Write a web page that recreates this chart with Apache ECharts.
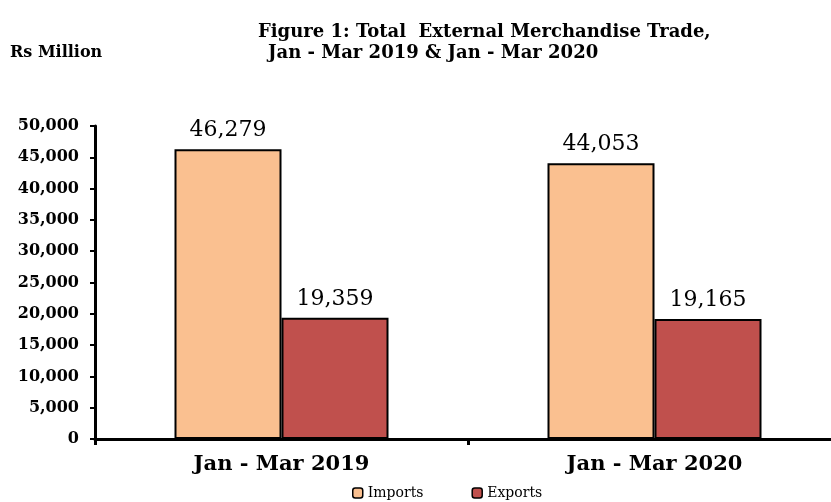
<!DOCTYPE html>
<html>
<head>
<meta charset="utf-8">
<script src="https://cdn.jsdelivr.net/npm/echarts@6/dist/echarts.min.js"></script>
<style>html,body{margin:0;padding:0;background:#fff;overflow:hidden;width:831px;height:502px;}#c{width:841px;height:502px;}</style>
</head>
<body>
<div id="c"></div>
<script>
var categories = ['Jan - Mar 2019', 'Jan - Mar 2020'];
var imports = [46279, 44053];
var exports = [19359, 19165];
var seriesNames = ['Imports', 'Exports'];

var serif = 'DejaVu Serif, serif';
var chart = echarts.init(document.getElementById('c'));
function fmt(v){ return Number(v).toLocaleString('en-US'); }
var labelStyle = {show:true, position:'top', distance:8, color:'#000', fontFamily:serif, fontSize:22, formatter:function(p){return fmt(p.value);}};
chart.setOption({
  animation:false,
  title:[
    {text:'Figure 1: Total  External Merchandise Trade,', left:253, top:18, textStyle:{fontFamily:serif, fontWeight:'bold', fontSize:18, color:'#000'}},
    {text:'Jan - Mar 2019 & Jan - Mar 2020', left:263, top:39, textStyle:{fontFamily:serif, fontWeight:'bold', fontSize:18, color:'#000'}},
    {text:'Rs Million', left:5, top:40, textStyle:{fontFamily:serif, fontWeight:'bold', fontSize:16, color:'#000'}}
  ],
  legend:{
    data:seriesNames, bottom:-3, left:347, itemWidth:10, itemHeight:10, itemGap:48,
    textStyle:{fontFamily:serif, fontSize:14, color:'#000'},
    itemStyle:{borderColor:'#000', borderWidth:1.5}
  },
  grid:{left:95, top:126, right:0, height:313},
  xAxis:{
    type:'category', data:categories,
    axisLine:{lineStyle:{color:'#000', width:3}},
    axisTick:{show:true, length:6, lineStyle:{color:'#000', width:3}},
    axisLabel:{fontFamily:serif, fontWeight:'bold', fontSize:21, color:'#000', margin:15}
  },
  yAxis:{
    type:'value', min:0, max:50000, interval:5000,
    axisLine:{show:true, lineStyle:{color:'#000', width:3}},
    axisTick:{show:true, length:5, lineStyle:{color:'#000', width:2}},
    splitLine:{show:false},
    axisLabel:{fontFamily:serif, fontWeight:'bold', fontSize:16, color:'#000', margin:16, formatter:function(v){return fmt(v);}}
  },
  series:[
    {name:seriesNames[0], type:'bar', data:imports, barWidth:107, barGap:'0%',
     itemStyle:{color:'#FAC090', borderColor:'#000', borderWidth:2}, label:labelStyle},
    {name:seriesNames[1], type:'bar', data:exports, barWidth:107, barGap:'0%',
     itemStyle:{color:'#C0504D', borderColor:'#000', borderWidth:2}, label:labelStyle}
  ]
});
</script>
</body>
</html>
